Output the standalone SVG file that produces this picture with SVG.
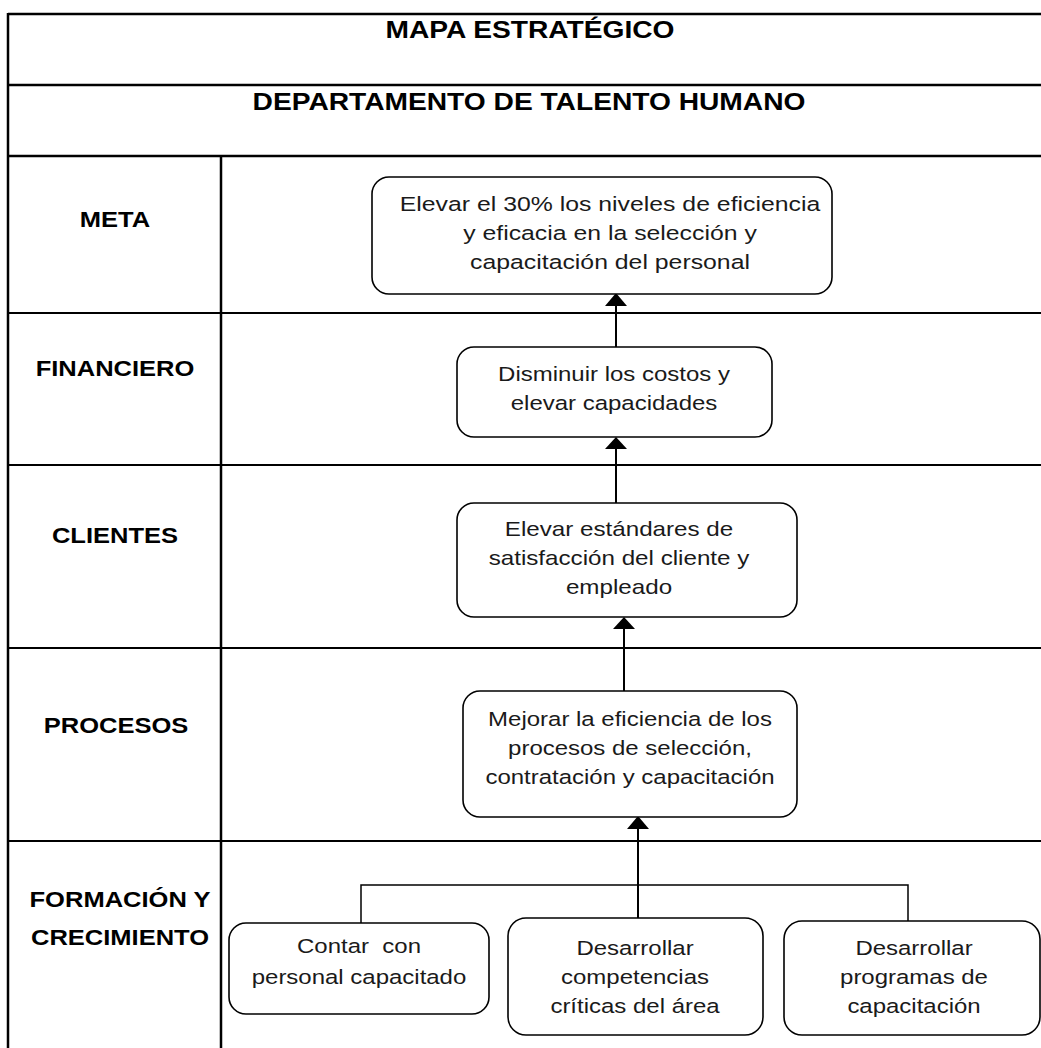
<svg xmlns="http://www.w3.org/2000/svg" width="1041" height="1048" viewBox="0 0 1041 1048">
  <style>
    .grid { stroke: #000; stroke-width: 2.5; fill: none; }
    .row { stroke: #000; stroke-width: 2; fill: none; }
    .box { fill: #fff; stroke: #000; stroke-width: 1.6; }
    .title { font-family: "Liberation Sans", Arial, sans-serif; font-weight: bold; font-size: 24.5px; fill: #000; text-anchor: middle; }
    .label { font-family: "Liberation Sans", Arial, sans-serif; font-weight: bold; font-size: 22px; fill: #000; text-anchor: middle; }
    .body { font-family: "Liberation Sans", Arial, sans-serif; font-size: 20.5px; fill: #1a1a1a; text-anchor: middle; }
    .link { stroke: #000; stroke-width: 2; fill: none; }
    .thin { stroke: #000; stroke-width: 1.5; fill: none; }
    .head { fill: #000; stroke: none; }
  </style>

  <rect width="1041" height="1048" fill="#fff"/>

  <!-- table frame -->
  <g id="table">
    <line class="grid" x1="8" y1="14" x2="1041" y2="14"/>
    <line class="grid" x1="8" y1="85" x2="1041" y2="85"/>
    <line class="grid" x1="8" y1="156" x2="1041" y2="156"/>
    <line class="grid" x1="8" y1="13" x2="8" y2="1048"/>
    <line class="grid" x1="221" y1="156" x2="221" y2="1048"/>
    <line class="row" x1="8" y1="313" x2="1041" y2="313"/>
    <line class="row" x1="8" y1="465" x2="1041" y2="465"/>
    <line class="row" x1="8" y1="648" x2="1041" y2="648"/>
    <line class="row" x1="8" y1="841" x2="1041" y2="841"/>
  </g>

  <!-- headings -->
  <g id="titles">
    <text class="title" transform="translate(530 38) scale(1.15 1)">MAPA ESTRATÉGICO</text>
    <text class="title" transform="translate(529 110) scale(1.15 1)">DEPARTAMENTO DE TALENTO HUMANO</text>
  </g>

  <!-- perspective labels -->
  <g id="labels">
    <text class="label" transform="translate(115 227) scale(1.16 1)">META</text>
    <text class="label" transform="translate(115 376) scale(1.16 1)">FINANCIERO</text>
    <text class="label" transform="translate(115 543) scale(1.16 1)">CLIENTES</text>
    <text class="label" transform="translate(116 733) scale(1.16 1)">PROCESOS</text>
    <text class="label" transform="translate(120 907) scale(1.16 1)">FORMACIÓN Y</text>
    <text class="label" transform="translate(120 945) scale(1.16 1)">CRECIMIENTO</text>
  </g>

  <!-- connectors -->
  <g id="connectors">
    <line class="link" x1="616" y1="347" x2="616" y2="304"/>
    <polygon class="head" points="616,293 605,306 627,306"/>
    <line class="link" x1="616" y1="503" x2="616" y2="447"/>
    <polygon class="head" points="616,437 605,449 627,449"/>
    <line class="link" x1="624" y1="691" x2="624" y2="627"/>
    <polygon class="head" points="624,617 613,629 635,629"/>
    <line class="link" x1="638" y1="918" x2="638" y2="826"/>
    <polygon class="head" points="638,816 627,829 649,829"/>
    <polyline class="thin" points="361,923 361,885 908,885 908,921"/>
  </g>

  <g id="meta">
    <rect class="box" x="372" y="177" width="460" height="117" rx="17"/>
    <text class="body" transform="translate(610 211) scale(1.21 1)">Elevar el 30% los niveles de eficiencia</text>
    <text class="body" transform="translate(610 240) scale(1.21 1)">y eficacia en la selección y</text>
    <text class="body" transform="translate(610 269) scale(1.21 1)">capacitación del personal</text>
  </g>

  <g id="financiero">
    <rect class="box" x="457" y="347" width="315" height="90" rx="17"/>
    <text class="body" transform="translate(614 381) scale(1.17 1)">Disminuir los costos y</text>
    <text class="body" transform="translate(614 410) scale(1.17 1)">elevar capacidades</text>
  </g>

  <g id="clientes">
    <rect class="box" x="457" y="503" width="340" height="114" rx="17"/>
    <text class="body" transform="translate(619 536) scale(1.18 1)">Elevar estándares de</text>
    <text class="body" transform="translate(619 565) scale(1.18 1)">satisfacción del cliente y</text>
    <text class="body" transform="translate(619 594) scale(1.18 1)">empleado</text>
  </g>

  <g id="procesos">
    <rect class="box" x="463" y="691" width="334" height="126" rx="17"/>
    <text class="body" transform="translate(630 726) scale(1.17 1)">Mejorar la eficiencia de los</text>
    <text class="body" transform="translate(630 755) scale(1.17 1)">procesos de selección,</text>
    <text class="body" transform="translate(630 784) scale(1.17 1)">contratación y capacitación</text>
  </g>

  <g id="personal">
    <rect class="box" x="229" y="923" width="260" height="91" rx="17"/>
    <text class="body" transform="translate(359 953) scale(1.17 1)" xml:space="preserve">Contar  con</text>
    <text class="body" transform="translate(359 984) scale(1.17 1)">personal capacitado</text>
  </g>

  <g id="competencias">
    <rect class="box" x="508" y="918" width="255" height="117" rx="18"/>
    <text class="body" transform="translate(635 955) scale(1.17 1)">Desarrollar</text>
    <text class="body" transform="translate(635 984) scale(1.17 1)">competencias</text>
    <text class="body" transform="translate(635 1013) scale(1.17 1)">críticas del área</text>
  </g>

  <g id="programas">
    <rect class="box" x="784" y="921" width="256" height="114" rx="18"/>
    <text class="body" transform="translate(914 955) scale(1.17 1)">Desarrollar</text>
    <text class="body" transform="translate(914 984) scale(1.17 1)">programas de</text>
    <text class="body" transform="translate(914 1013) scale(1.17 1)">capacitación</text>
  </g>
</svg>
